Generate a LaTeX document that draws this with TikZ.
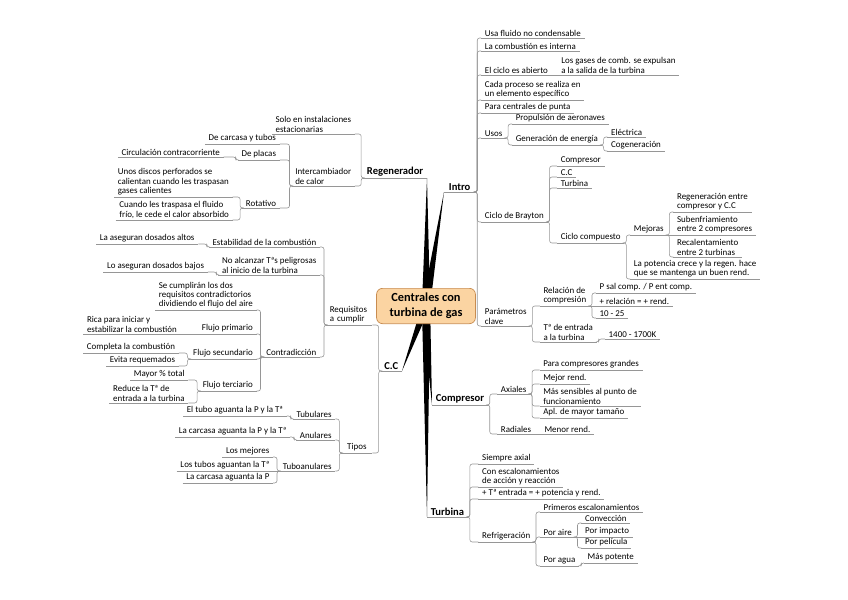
\documentclass[tikz,border=0pt]{standalone}
\usepackage{fontspec}
\setmainfont{Carlito}
\usetikzlibrary{calc}

\definecolor{ctrfill}{RGB}{251,212,162}
\definecolor{ctrline}{RGB}{200,140,80}
\definecolor{lnk}{RGB}{150,150,150}

\pgfdeclarelayer{bg}
\pgfsetlayers{bg,main}

\newcommand{\wedgeto}[1]{\fill ($(ctr)!3.5pt!90:(#1)$) -- (#1) -- ($(ctr)!3.5pt!-90:(#1)$) -- cycle;}

\begin{document}
\begin{tikzpicture}[x=0.85pt, y=-0.85pt,
	ul/.style={draw=lnk, line width=0.5pt},
	cn/.style={draw=lnk, line width=0.5pt, rounded corners=2pt},
	tp/.style={inner xsep=3pt, inner ysep=1.2pt, align=left, font=\fontsize{7.6}{8}\selectfont, append after command={(\tikzlastnode.south west) edge[ul] (\tikzlastnode.south east)}},
	mt/.style={tp, font=\fontsize{9}{10}\selectfont\bfseries},
	rt/.style={tp, anchor=south west, xshift=#1}, rt/.default=5pt,
	lt/.style={tp, anchor=south east, xshift=-#1}, lt/.default=5pt,
	ctrbox/.style={draw=ctrline, fill=ctrfill, line width=0.6pt, rounded corners=5pt, align=center, font=\fontsize{10.5}{12.5}\selectfont\bfseries, minimum width=84pt, minimum height=30pt}]
	\useasboundingbox (0,0) rectangle (848,599);

	\node[ctrbox] (ctr) at (426,306) {Centrales con\\turbina de gas};

	% Intro
	\node[mt, anchor=south west, inner xsep=4pt] (intro) at (444,192) {Intro};
	\node[rt] (usa) at (intro.south east |- 0,38) {Usa fluido no condensable};
	\node[rt] (comb) at (intro.south east |- 0,51) {La combustión es interna};
	\node[rt] (abierto) at (intro.south east |- 0,75) {El ciclo es abierto};
	\node[rt] (gases) at (abierto.south east |- 0,75) {Los gases de comb. se expulsan\\a la salida de la turbina};
	\node[rt] (cada) at (intro.south east |- 0,100) {Cada proceso se realiza en\\un elemento específico};
	\node[rt] (punta) at (intro.south east |- 0,113) {Para centrales de punta};
	\node[rt] (usos) at (intro.south east |- 0,138) {Usos};
	\node[rt] (prop) at (usos.south east |- 0,124) {Propulsión de aeronaves};
	\node[rt] (gen) at (usos.south east |- 0,145) {Generación de energía};
	\node[rt] (elec) at (gen.south east |- 0,137) {Eléctrica};
	\node[rt] (cogen) at (gen.south east |- 0,151) {Cogeneración};
	\node[rt] (brayton) at (intro.south east |- 0,222) {Ciclo de Brayton};
	\node[rt=8pt] (bcomp) at (brayton.south east |- 0,166) {Compresor};
	\node[rt=8pt] (bcc) at (brayton.south east |- 0,177) {C.C};
	\node[rt=8pt] (bturb) at (brayton.south east |- 0,188) {Turbina};
	\node[rt=8pt] (ccomp) at (brayton.south east |- 0,243) {Ciclo compuesto};
	\node[rt] (mej) at (ccomp.south east |- 0,235) {Mejoras};
	\node[rt] (regen) at (mej.south east |- 0,212) {Regeneración entre\\compresor y C.C};
	\node[rt] (subenf) at (mej.south east |- 0,235) {Subenfriamiento\\entre 2 compresores};
	\node[rt] (recal) at (mej.south east |- 0,257) {Recalentamiento\\entre 2 turbinas};
	\node[rt] (pot) at (ccomp.south east |- 0,279) {La potencia crece y la regen. hace\\que se mantenga un buen rend.};
	\node[rt] (param) at (intro.south east |- 0,326) {Parámetros\\clave};
	\node[rt=8pt] (relc) at (param.south east |- 0,306) {Relación de\\compresión};
	\node[rt] (psal) at (relc.south east |- 0,293) {P sal comp. / P ent comp.};
	\node[rt] (masrel) at (relc.south east |- 0,306) {+ relación = + rend.};
	\node[rt] (diez) at (relc.south east |- 0,318) {10 - 25};
	\node[rt=8pt] (tent) at (param.south east |- 0,342) {Tª de entrada\\a la turbina};
	\node[rt=7pt] (k) at (tent.south east |- 0,339) {1400 - 1700K};

	% Compresor
	\node[mt, anchor=south west] (comp) at (432,405) {Compresor};
	\node[rt=8pt] (axi) at (comp.south east |- 0,394) {Axiales};
	\node[rt=8pt] (grandes) at (axi.south east |- 0,370) {Para compresores grandes};
	\node[rt=8pt] (mejor) at (axi.south east |- 0,384) {Mejor rend.};
	\node[rt=8pt] (sens) at (axi.south east |- 0,406) {Más sensibles al punto de\\funcionamiento};
	\node[rt=8pt] (apl) at (axi.south east |- 0,418) {Apl. de mayor tamaño};
	\node[rt=8pt] (rad) at (comp.south east |- 0,434) {Radiales};
	\node[rt] (menor) at (rad.south east |- 0,434) {Menor rend.};

	% Turbina
	\node[mt, anchor=south west] (turb) at (427,517) {Turbina};
	\node[rt=9pt] (siempre) at (turb.south east |- 0,464) {Siempre axial};
	\node[rt=9pt] (escal) at (turb.south east |- 0,487) {Con escalonamientos\\de acción y reacción};
	\node[rt=9pt] (tent2) at (turb.south east |- 0,499) {+ Tª entrada = + potencia y rend.};
	\node[rt=9pt] (refr) at (turb.south east |- 0,542) {Refrigeración};
	\node[rt] (prim) at (refr.south east |- 0,512) {Primeros escalonamientos};
	\node[rt] (paire) at (refr.south east |- 0,537) {Por aire};
	\node[rt] (conv) at (paire.south east |- 0,523) {Convección};
	\node[rt] (impac) at (paire.south east |- 0,537) {Por impacto};
	\node[rt] (pelic) at (paire.south east |- 0,548) {Por película};
	\node[rt] (pagua) at (refr.south east |- 0,566) {Por agua};
	\node[rt=4pt] (potente) at (pagua.south east |- 0,563) {Más potente};

	% Regenerador
	\node[mt, anchor=south east] (reg) at (427,178) {Regenerador};
	\node[lt=7pt] (solo) at (reg.south west |- 0,134) {Solo en instalaciones\\estacionarias};
	\node[lt=7pt] (inter) at (reg.south west |- 0,186) {Intercambiador\\de calor};
	\node[lt=10pt] (carc) at (inter.south west |- 0,144) {De carcasa y tubos};
	\node[lt=10pt] (placas) at (inter.south west |- 0,160) {De placas};
	\node[lt=12pt] (contra) at (placas.south west |- 0,157) {Circulación contracorriente};
	\node[lt=10pt] (rot) at (inter.south west |- 0,208) {Rotativo};
	\node[lt=8pt] (discos) at (rot.south west |- 0,197) {Unos discos perforados se\\calientan cuando les traspasan\\gases calientes};
	\node[lt=8pt] (cuando) at (rot.south west |- 0,220) {Cuando les traspasa el fluido\\frío, le cede el calor absorbido};

	% C.C
	\node[mt, anchor=south east] (cc) at (402,371) {C.C};
	\node[lt=7pt, text width=33pt] (req) at (cc.south west |- 0,325) {Requisitos\\a cumplir};
	\node[lt] (estab) at (req.south west |- 0,247) {Estabilidad de la combustión};
	\node[lt=9pt] (altos) at (estab.south west |- 0,244) {La aseguran dosados altos};
	\node[lt] (noalc) at (req.south west |- 0,275) {No alcanzar Tªs peligrosas\\al inicio de la turbina};
	\node[lt=9pt] (bajos) at (noalc.south west |- 0,272) {Lo aseguran dosados bajos};
	\node[lt] (contr) at (req.south west |- 0,357) {Contradicción};
	\node[lt] (cumpl) at (contr.south west |- 0,310) {Se cumplirán los dos\\requisitos contradictorios\\dividiendo el flujo del aire};
	\node[lt] (fprim) at (contr.south west |- 0,334) {Flujo primario};
	\node[lt=15pt] (rica) at (fprim.south west |- 0,334) {Rica para iniciar y\\estabilizar la combustión};
	\node[lt] (fsec) at (contr.south west |- 0,359) {Flujo secundario};
	\node[lt=9pt] (compl) at (fsec.south west |- 0,353) {Completa la combustión};
	\node[lt=9pt] (evita) at (fsec.south west |- 0,366) {Evita requemados};
	\node[lt] (fter) at (contr.south west |- 0,391) {Flujo terciario};
	\node[lt=9pt] (mayor) at (fter.south west |- 0,380) {Mayor \% total};
	\node[lt=9pt] (reduce) at (fter.south west |- 0,403) {Reduce la Tª de\\entrada a la turbina};
	\node[lt=7pt, minimum width=26pt] (tipos) at (cc.south west |- 0,453) {Tipos};
	\node[lt] (tubul) at (tipos.south west |- 0,419) {Tubulares};
	\node[lt] (tubo) at (tubul.south west |- 0,416) {El tubo aguanta la P y la Tª};
	\node[lt] (anul) at (tipos.south west |- 0,440) {Anulares};
	\node[lt] (carP) at (anul.south west |- 0,437) {La carcasa aguanta la P y la Tª};
	\node[lt] (tuboan) at (tipos.south west |- 0,471) {Tuboanulares};
	\node[lt] (mejores) at (tuboan.south west |- 0,457) {Los mejores};
	\node[lt] (tubosT) at (tuboan.south west |- 0,471) {Los tubos aguantan la Tª};
	\node[lt] (carcP) at (tuboan.south west |- 0,483) {La carcasa aguanta la P};

	% connectors
	\foreach \p/\q in {intro/usa, intro/comb, intro/abierto, intro/cada, intro/punta, intro/usos, intro/brayton, intro/param, usos/prop, usos/gen, gen/elec, gen/cogen, brayton/bcomp, brayton/bcc, brayton/bturb, brayton/ccomp, ccomp/mej, ccomp/pot, mej/regen, mej/recal, param/relc, param/tent, relc/psal, relc/diez, tent/k, comp/axi, comp/rad, axi/grandes, axi/mejor, axi/sens, axi/apl, turb/siempre, turb/escal, turb/tent2, turb/refr, refr/prim, refr/paire, refr/pagua, paire/conv, paire/pelic, pagua/potente}
		\draw[cn] (\p.south east) -- ++(2,0) |- (\q.south west);
	\foreach \p/\q in {abierto/gases, mej/subenf, relc/masrel, rad/menor, paire/impac}
		\draw[cn] (\p.south east) -- (\q.south west);
	\foreach \p/\q in {reg/solo, reg/inter, inter/carc, inter/placas, inter/rot, placas/contra, rot/discos, rot/cuando, cc/req, cc/tipos, req/estab, req/noalc, req/contr, estab/altos, noalc/bajos, contr/cumpl, contr/fprim, contr/fsec, contr/fter, fsec/compl, fsec/evita, fter/mayor, fter/reduce, tipos/tubul, tipos/anul, tipos/tuboan, tubul/tubo, anul/carP, tuboan/mejores, tuboan/carcP}
		\draw[cn] (\p.south west) -- ++(-2,0) |- (\q.south east);
	\foreach \p/\q in {fprim/rica, tuboan/tubosT}
		\draw[cn] (\p.south west) -- (\q.south east);

	\begin{pgfonlayer}{bg}
	\wedgeto{reg.south east} \wedgeto{intro.south west} \wedgeto{cc.south east} \wedgeto{comp.south west} \wedgeto{turb.south west}
	\end{pgfonlayer}
\end{tikzpicture}
\end{document}
